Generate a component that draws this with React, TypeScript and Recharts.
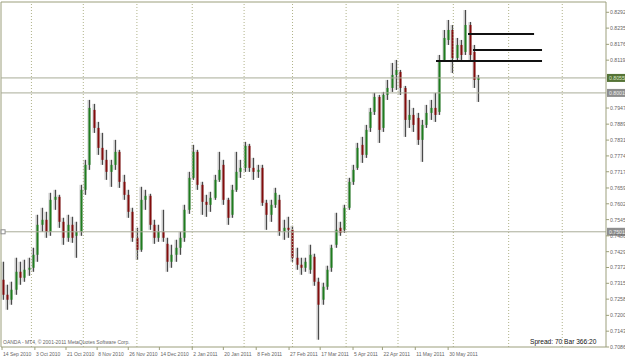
import React from "react";
import { ComposedChart, Bar, XAxis, YAxis, ReferenceLine, ReferenceDot } from "recharts";

// daily candles, one drawn candle every BAR_STEP calendar days from 14 Sep 2010
const OPEN = [
  0.73283, 0.72743, 0.72563, 0.72923, 0.73571, 0.73355, 0.73643, 0.73715, 0.74183, 0.75263,
  0.75443, 0.75011, 0.76163, 0.76271, 0.75371, 0.74795, 0.75263, 0.74867, 0.75011, 0.76523,
  0.77423, 0.79403, 0.78755, 0.78035, 0.77603, 0.77171, 0.77423, 0.77891, 0.76811, 0.76343,
  0.75731, 0.74795, 0.74363, 0.76163, 0.76307, 0.75263, 0.74795, 0.75011, 0.74579, 0.73931,
  0.74183, 0.74435, 0.74795, 0.75803, 0.76955, 0.77891, 0.76703, 0.76091, 0.75983, 0.76235,
  0.76883, 0.77423, 0.76163, 0.75623, 0.76523, 0.77171, 0.77315, 0.78107, 0.77315, 0.77171,
  0.77315, 0.76055, 0.75623, 0.75983, 0.76163, 0.75011, 0.75155, 0.75083, 0.74075, 0.73823,
  0.73715, 0.73643, 0.74111, 0.73211, 0.72563, 0.73031, 0.73715, 0.74543, 0.75155, 0.75083,
  0.75875, 0.76811, 0.77315, 0.78143, 0.77783, 0.78755, 0.79331, 0.79871, 0.78755, 0.79943,
  0.80195, 0.80663, 0.80771, 0.80195, 0.79043, 0.79223, 0.79115, 0.78323, 0.78863, 0.79295,
  0.79475, 0.79331, 0.81203, 0.81923, 0.82283, 0.81275, 0.81743, 0.81491, 0.82463, 0.81491,
  0.80483,
];
const HIGH = [
  0.73931, 0.73103, 0.73211, 0.74075, 0.73931, 0.74003, 0.74075, 0.74435, 0.75623, 0.75875,
  0.75731, 0.76415, 0.76523, 0.76343, 0.75515, 0.75623, 0.75551, 0.75371, 0.76703, 0.77603,
  0.79763, 0.79619, 0.78971, 0.78575, 0.77963, 0.77603, 0.78323, 0.77963, 0.77063, 0.76523,
  0.75875, 0.75155, 0.76631, 0.76523, 0.76379, 0.75443, 0.75263, 0.75803, 0.74795, 0.74543,
  0.74723, 0.75011, 0.75983, 0.77171, 0.78143, 0.77963, 0.76811, 0.76343, 0.76451, 0.77063,
  0.77891, 0.77603, 0.76235, 0.76703, 0.77891, 0.77603, 0.78251, 0.78179, 0.77675, 0.77423,
  0.77423, 0.76163, 0.76163, 0.76595, 0.76343, 0.75443, 0.75551, 0.75227, 0.74435, 0.74075,
  0.74075, 0.74543, 0.74219, 0.73355, 0.73175, 0.73787, 0.74543, 0.75695, 0.75371, 0.75983,
  0.76955, 0.77423, 0.78215, 0.78431, 0.78863, 0.79475, 0.80015, 0.79943, 0.80051, 0.80483,
  0.81095, 0.81203, 0.80843, 0.80267, 0.79763, 0.79475, 0.79295, 0.79043, 0.79583, 0.79763,
  0.80015, 0.81383, 0.82283, 0.82643, 0.82463, 0.81995, 0.81923, 0.83003, 0.82571, 0.81743,
  0.80663,
];
const LOW = [
  0.72563, 0.72203, 0.72383, 0.72743, 0.73103, 0.73211, 0.73427, 0.73571, 0.73931, 0.75011,
  0.74795, 0.74867, 0.75803, 0.75155, 0.74543, 0.74651, 0.74615, 0.74075, 0.74867, 0.76343,
  0.77243, 0.78575, 0.77783, 0.77423, 0.76883, 0.76631, 0.77243, 0.76595, 0.76163, 0.75515,
  0.74651, 0.74003, 0.74291, 0.75803, 0.75083, 0.74579, 0.74651, 0.74651, 0.73571, 0.73715,
  0.73931, 0.74183, 0.74651, 0.75659, 0.76883, 0.76523, 0.75623, 0.75551, 0.75731, 0.76163,
  0.76811, 0.75983, 0.75263, 0.75515, 0.76451, 0.76955, 0.77171, 0.77171, 0.76883, 0.76955,
  0.75947, 0.75083, 0.75371, 0.75875, 0.74867, 0.74723, 0.74795, 0.73931, 0.73643, 0.73463,
  0.73571, 0.73499, 0.73067, 0.71123, 0.72383, 0.72923, 0.73571, 0.74435, 0.74867, 0.74975,
  0.75803, 0.76703, 0.77243, 0.77495, 0.77675, 0.78611, 0.79223, 0.78215, 0.78611, 0.79763,
  0.80051, 0.80123, 0.79943, 0.78431, 0.78755, 0.78611, 0.78143, 0.77531, 0.78755, 0.79043,
  0.78971, 0.79223, 0.81131, 0.81743, 0.80735, 0.81131, 0.81203, 0.81383, 0.81203, 0.80195,
  0.79691,
];
const CLOSE = [
  0.72743, 0.72563, 0.72923, 0.73571, 0.73355, 0.73643, 0.73715, 0.74183, 0.75263, 0.75443,
  0.75011, 0.76163, 0.76271, 0.75371, 0.74795, 0.75263, 0.74795, 0.75011, 0.76523, 0.77423,
  0.79475, 0.78755, 0.78035, 0.77603, 0.77171, 0.77423, 0.77891, 0.76811, 0.76343, 0.75731,
  0.74795, 0.74363, 0.76163, 0.76307, 0.75263, 0.74795, 0.75011, 0.74795, 0.73931, 0.74183,
  0.74435, 0.74795, 0.75803, 0.76955, 0.77891, 0.76703, 0.76091, 0.75983, 0.76235, 0.76883,
  0.77243, 0.76163, 0.75515, 0.76523, 0.77171, 0.77315, 0.78107, 0.77315, 0.77171, 0.77243,
  0.76055, 0.75623, 0.75983, 0.76415, 0.75011, 0.75155, 0.75083, 0.74075, 0.73823, 0.73715,
  0.73931, 0.74183, 0.73211, 0.72383, 0.73031, 0.73643, 0.74435, 0.75083, 0.74975, 0.75875,
  0.76811, 0.77243, 0.78035, 0.77783, 0.78683, 0.79331, 0.79871, 0.78683, 0.79943, 0.80195,
  0.80663, 0.80843, 0.80195, 0.79043, 0.79223, 0.78863, 0.78323, 0.78863, 0.79295, 0.79475,
  0.79223, 0.81203, 0.81995, 0.82283, 0.81275, 0.81743, 0.81383, 0.82463, 0.81383, 0.80483,
  0.80555,
];

const BAR_STEP = 2.5;

// x axis: calendar days since 14 Sep 2010
const DATE_DAYS = [0, 19, 37, 55, 73, 91, 110, 128, 147, 166, 184, 203, 220, 239, 258];
const DATE_LABELS = [
  "14 Sep 2010", "3 Oct 2010", "21 Oct 2010", "8 Nov 2010", "26 Nov 2010",
  "14 Dec 2010", "2 Jan 2011", "20 Jan 2011", "8 Feb 2011", "27 Feb 2011",
  "17 Mar 2011", "5 Apr 2011", "22 Apr 2011", "11 May 2011", "30 May 2011",
];
// month separators (as MT4 places them on its bar time scale)
const MONTH_STARTS = [17, 47, 78, 110, 140, 168, 199, 229, 261, 293, 324];

// price scale labels (the two hidden under the bid / line boxes are left out)
const PRICE_TICKS = [
  0.8292, 0.8235, 0.81765, 0.81195, 0.7947, 0.7889, 0.78315, 0.77745, 0.77175,
  0.7659, 0.7602, 0.7545, 0.74865, 0.74295, 0.73725, 0.73155, 0.72585, 0.72, 0.7143, 0.7086,
];

// horizontal line objects
const BID = 0.80555;
const HLINES = [0.80015, 0.75011];
const LEVELS = [0.82139, 0.81563, 0.81167];
const LEVEL_FROM = [269.5, 272.4, 251];
const LEVEL_TO = [307.7, 312.3, 312.3];

const X_MIN = -0.6;
const X_MAX = 349.3;
const Y_MIN = 0.7086;
const Y_MAX = 0.83291;

const AXIS = "#9c9f7c";
const FONT = "'Liberation Sans', Arial, sans-serif";

const candles = OPEN.map((o, i) => ({
  t: 0.5 + i * BAR_STEP,
  open: o,
  high: HIGH[i],
  low: LOW[i],
  close: CLOSE[i],
}));

const Candle = (props: any) => {
  const { x, y, width, height, payload } = props;
  if (!payload || height == null) return null;
  const { open, high, low, close } = payload;
  const top = Math.min(y, y + height);
  const h = Math.abs(height);
  const perUnit = h / (high - low || 1);
  const yOpen = top + (high - open) * perUnit;
  const yClose = top + (high - close) * perUnit;
  const bull = close >= open;
  const cx = Math.round(x + width / 2) + 0.5;
  return (
    <g>
      <rect x={cx - 2} y={top} width={3} height={h} fill="#c9c9c9" />
      <line x1={cx} x2={cx} y1={top} y2={top + h} stroke="#4a4a4a" strokeWidth={1} />
      <rect
        x={cx - 1}
        y={Math.min(yOpen, yClose)}
        width={2}
        height={Math.max(1, Math.abs(yClose - yOpen))}
        fill={bull ? "#1e7d1e" : "#820c0c"}
      />
    </g>
  );
};

const DateTick = ({ x, y, payload }: any) => {
  const idx = DATE_DAYS.indexOf(payload.value);
  return (
    <g>
      <line x1={x} x2={x} y1={y - 8} y2={y - 5} stroke={AXIS} />
      <text x={x + 1} y={y + 1} fontSize={5} fill="#666" fontFamily={FONT}>
        {DATE_LABELS[idx]}
      </text>
    </g>
  );
};

const PriceTick = ({ x, y, payload }: any) => (
  <g>
    <line x1={606} x2={609} y1={y} y2={y} stroke={AXIS} />
    <text x={610} y={y + 2} fontSize={5.2} fill="#666" fontFamily={FONT}>
      {payload.value.toFixed(5)}
    </text>
  </g>
);

const priceBox = (fill: string, color: string, value: number) => (props: any) => {
  const vb = props.viewBox || {};
  const bx = (vb.x || 0) + (vb.width || 0) + 1;
  const by = vb.y || 0;
  return (
    <g>
      <rect x={bx} y={by - 4} width={20} height={8} fill={fill} />
      <text x={bx + 2} y={by + 2} fontSize={5.2} fill={color} fontFamily={FONT}>
        {value.toFixed(5)}
      </text>
    </g>
  );
};

export default function App() {
  return (
    <div style={{ position: "fixed", left: 0, top: 0, width: 625, height: 357, background: "#fff" }}>
      <ComposedChart
        width={625}
        height={357}
        data={candles}
        margin={{ top: 2, right: 0, bottom: 0, left: 1 }}
      >
        <XAxis
          type="number"
          dataKey="t"
          scale="linear"
          domain={[X_MIN, X_MAX]}
          allowDataOverflow
          padding={{ left: 0, right: 0 }}
          ticks={DATE_DAYS}
          interval={0}
          height={10}
          tickLine={false}
          tick={<DateTick />}
          axisLine={{ stroke: AXIS }}
        />
        <YAxis
          orientation="right"
          type="number"
          scale="linear"
          domain={[Y_MIN, Y_MAX]}
          allowDataOverflow
          ticks={PRICE_TICKS}
          interval={0}
          width={19}
          tickLine={false}
          tick={<PriceTick />}
          axisLine={{ stroke: AXIS }}
        />
        <ReferenceLine y={Y_MAX} stroke={AXIS} />
        <ReferenceLine x={X_MIN} stroke={AXIS} />
        {MONTH_STARTS.map((d) => (
          <ReferenceLine key={"m" + d} x={d} stroke="#b0b38a" strokeDasharray="1 2" />
        ))}
        <Bar
          dataKey={(d: any) => [d.low, d.high]}
          barSize={4}
          shape={<Candle />}
          isAnimationActive={false}
        />
        <ReferenceLine y={BID} stroke="#a9ac98" label={{ content: priceBox("#557336", "#dfe9c8", BID) }} />
        {HLINES.map((p) => (
          <ReferenceLine
            key={"h" + p}
            y={p}
            stroke="#a9ac98"
            label={{ content: priceBox("#8e8e8e", "#eeeeee", p) }}
          />
        ))}
        <ReferenceDot
          x={X_MIN + 1.2}
          y={HLINES[1]}
          r={2}
          shape={(p: any) => (
            <rect x={p.cx - 2} y={p.cy - 2} width={4} height={4} fill="#fff" stroke="#8e8e8e" />
          )}
        />
        {LEVELS.map((p, i) => (
          <ReferenceLine
            key={"l" + p}
            segment={[
              { x: LEVEL_FROM[i], y: p },
              { x: LEVEL_TO[i], y: p },
            ]}
            stroke="#111"
            strokeWidth={2}
          />
        ))}
      </ComposedChart>
      <svg width={625} height={357} style={{ position: "absolute", left: 0, top: 0, pointerEvents: "none" }}>
        <text x={3} y={343.5} fontSize={5} fill="#666" fontFamily={FONT}>
          OANDA - MT4, © 2001-2011 MetaQuotes Software Corp.
        </text>
        <text x={530} y={344} fontSize={6.6} fill="#111" fontFamily={FONT}>
          Spread: 70 Bar  366:20
        </text>
      </svg>
    </div>
  );
}
